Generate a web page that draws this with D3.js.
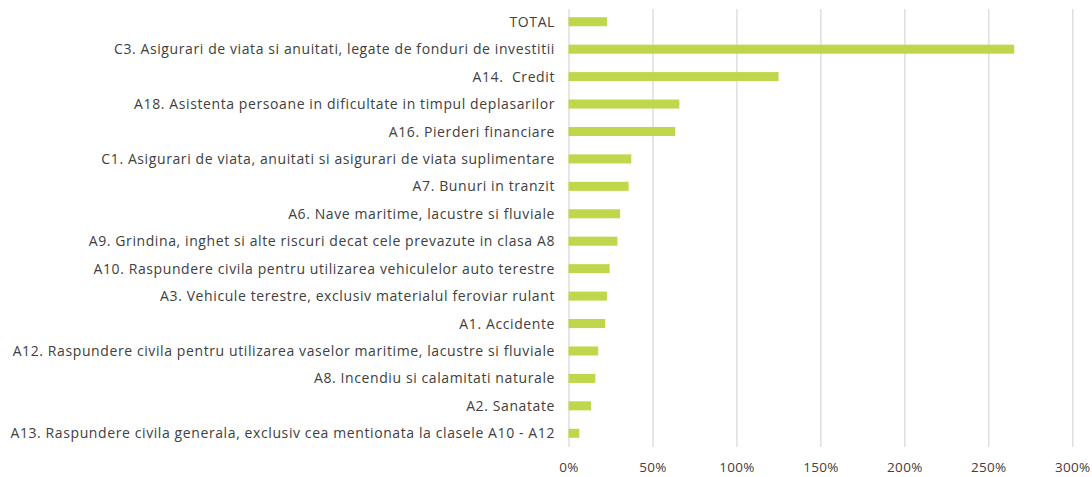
<!DOCTYPE html>
<html>
<head>
<meta charset="utf-8">
<script src="https://cdn.jsdelivr.net/npm/d3@7"></script>
<style>
    body { margin: 0; background: #ffffff; }
    text { font-family: "Open Sans", Lato, sans-serif; white-space: pre; }
</style>
</head>
<body>
<div id="chart"></div>
<script>
// DATA
// ================================================================================== //

const categories = [
    "TOTAL",
    "C3. Asigurari de viata si anuitati, legate de fonduri de investitii",
    "A14.  Credit",
    "A18. Asistenta persoane in dificultate in timpul deplasarilor",
    "A16. Pierderi financiare",
    "C1. Asigurari de viata, anuitati si asigurari de viata suplimentare",
    "A7. Bunuri in tranzit",
    "A6. Nave maritime, lacustre si fluviale",
    "A9. Grindina, inghet si alte riscuri decat cele prevazute in clasa A8",
    "A10. Raspundere civila pentru utilizarea vehiculelor auto terestre",
    "A3. Vehicule terestre, exclusiv materialul feroviar rulant",
    "A1. Accidente",
    "A12. Raspundere civila pentru utilizarea vaselor maritime, lacustre si fluviale",
    "A8. Incendiu si calamitati naturale",
    "A2. Sanatate",
    "A13. Raspundere civila generala, exclusiv cea mentionata la clasele A10 - A12"
]

// growth rates, in percent
const values = [22.9, 265.4, 125.1, 66.0, 63.6, 37.4, 35.8, 30.7, 29.1, 24.5, 22.9, 21.9, 17.7, 16.0, 13.4, 6.4]

const xTicks = [0, 50, 100, 150, 200, 250, 300]

const data = categories.map((c, i) => ({ name: c, value: values[i] }))

// ================================================================================== //

const width = 1092
const height = 477
const margin = ({ top: 8, right: 20, bottom: 30, left: 568.5 })

const x = d3.scaleLinear()
    .domain([0, 300])
    .range([margin.left, 1072.3])

const y = d3.scaleBand()
    .domain(categories)
    .range([margin.top, height - margin.bottom])
    .paddingInner(0.67)
    .paddingOuter(0.335)

const svg = d3.select("#chart")
    .append("svg")
    .attr("width", width)
    .attr("height", height)
    .attr("viewBox", [0, 0, width, height])

// gridlines
svg.append("g")
    .attr("transform", `translate(0,${height - margin.bottom})`)
    .call(d3.axisBottom(x)
        .tickValues(xTicks)
        .tickSize(-(height - margin.bottom - margin.top) + 1)
        .tickFormat(d => d + "%")
        .tickPadding(15))
    .call(g => g.select(".domain").remove())
    .call(g => g.selectAll(".tick line")
        .attr("stroke", "#d9d9d9")
        .attr("stroke-width", 1.3))
    .call(g => g.selectAll(".tick text")
        .attr("fill", "#404040")
        .attr("font-size", "13.5px")
        .attr("letter-spacing", "0.3px"))

// bars
svg.append("g")
    .selectAll("rect")
    .data(data)
    .join("rect")
    .attr("x", x(0))
    .attr("y", d => y(d.name))
    .attr("width", d => x(d.value) - x(0))
    .attr("height", y.bandwidth())
    .attr("fill", "#bfd84b")

// category labels
svg.append("g")
    .selectAll("text")
    .data(data)
    .join("text")
    .attr("x", 555)
    .attr("y", d => y(d.name) + y.bandwidth() / 2)
    .attr("dy", "0.36em")
    .attr("text-anchor", "end")
    .attr("fill", "#404040")
    .attr("font-size", "14px")
    .attr("letter-spacing", "0.6px")
    .text(d => d.name)
</script>
</body>
</html>
